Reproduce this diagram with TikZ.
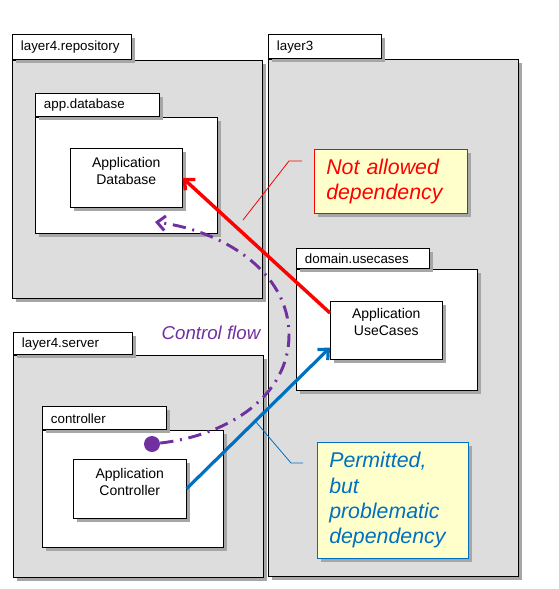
\documentclass[tikz,border=0pt]{standalone}
\usepackage{fontspec}
\setmainfont{Liberation Sans}
\usetikzlibrary{positioning,shadows,arrows.meta}
\definecolor{pkggray}{RGB}{221,221,221}
\definecolor{notefill}{RGB}{255,255,204}
\definecolor{flowpurple}{RGB}{112,48,160}
\definecolor{depblue}{RGB}{0,112,192}
\begin{document}
\begin{tikzpicture}[
    x=0.75pt, y=-0.75pt,
    soft shadow/.style={drop shadow={shadow xshift=2.5pt, shadow yshift=-2.5pt, fill=black!35, opacity=1}},
    package body/.style={draw, fill=pkggray, anchor=north west, inner sep=0pt, soft shadow},
    package inner/.style={package body, fill=white},
    package tab/.style={draw, fill=white, anchor=south west, inner xsep=6.5pt, inner ysep=0pt, align=left, font=\fontsize{10}{12}\selectfont, soft shadow},
    class box/.style={draw, fill=white, anchor=north west, inner sep=0pt, soft shadow},
    class text/.style={inner sep=0pt, align=center, font=\fontsize{10.5}{12.75}\selectfont},
    note box/.style={fill=notefill, anchor=north west, inner xsep=9pt, inner ysep=5pt, align=left, font=\fontsize{16}{19}\selectfont\itshape, soft shadow},
    flow line/.style={flowpurple, line width=2.2pt, dash pattern=on 10pt off 5pt on 1.5pt off 5pt, -{Straight Barb[length=6pt, width=11pt]}},
    bad dep/.style={red, line width=2.6pt, -{Straight Barb[length=6pt, width=11pt]}},
    ok dep/.style={depblue, line width=2.4pt, -{Straight Barb[length=6pt, width=11pt]}}
    ]
    \useasboundingbox (0,0) rectangle (559,589);
    % layer4.repository
    \node[package body, minimum width=187.5pt, minimum height=178.5pt] (repbody) at (12,60) {};
    \node[package tab, text width=76.25pt, minimum height=18.75pt] (reptab) at (repbody.north west) {layer4.repository};
    \node[package inner, minimum width=136.5pt, minimum height=87pt] (dbpkg) at (35,117) {};
    \node[package tab, text width=80pt, minimum height=17.25pt] (dbtab) at (dbpkg.north west) {app.database};
    \node[class box, minimum width=84pt, minimum height=44.25pt] (dbbox) at (70,148) {};
    \node[class text, below=6.5pt of dbbox.north] (dbtext) {Application\\Database};
    % layer3
    \node[package body, minimum width=187.5pt, minimum height=387.75pt] (l3body) at (268,59) {};
    \node[package tab, text width=71.75pt, minimum height=18pt] (l3tab) at (l3body.north west) {layer3};
    \node[package inner, minimum width=135.75pt, minimum height=90.75pt] (ucpkg) at (296,269) {};
    \node[package tab, text width=86.75pt, minimum height=15pt] (uctab) at (ucpkg.north west) {domain.usecases};
    \node[class box, minimum width=84pt, minimum height=43.5pt] (ucbox) at (330,301) {};
    \node[class text, below=5pt of ucbox.north] (uctext) {Application\\UseCases};
    % layer4.server
    \node[package body, minimum width=187.5pt, minimum height=166.5pt] (srvbody) at (13,355) {};
    \node[package tab, text width=76.25pt, minimum height=16.5pt] (srvtab) at (srvbody.north west) {layer4.server};
    \node[package inner, minimum width=135.75pt, minimum height=87.75pt] (ctrlpkg) at (42,430) {};
    \node[package tab, text width=80pt, minimum height=17.25pt] (ctrltab) at (ctrlpkg.north west) {controller};
    \node[class box, minimum width=84.75pt, minimum height=44.25pt] (ctrlbox) at (73,459) {};
    \node[class text, below=6.5pt of ctrlbox.north] (ctrltext) {Application\\Controller};
    % notes
    \node[note box, draw=red, text=red, text width=96.75pt, minimum height=48pt] (nanote) at (314,149) {Not allowed\\dependency};
    \coordinate (nacall) at (243,220);
    \draw[red, line width=0.6pt] ([xshift=-9pt, yshift=-9pt]nanote.north west) -- ++(-13,0) -- (nacall);
    \node[note box, draw=depblue, text=depblue, text width=95.25pt, minimum height=87pt] (pmnote) at (317,442) {Permitted,\\but\\problematic\\dependency};
    \coordinate (pmcall) at (256,422);
    \draw[depblue, line width=0.6pt] ([xshift=-10.5pt, yshift=-15.75pt]pmnote.north west) -- ++(-12,0) -- (pmcall);
    % control flow
    \node[text=flowpurple, font=\fontsize{14}{16}\selectfont\itshape] (flowlabel) at (211,333) {Control flow};
    \node[circle, fill=flowpurple, minimum size=12pt, inner sep=0pt] (cfdot) at (152,444) {};
    \coordinate (flowmid) at (289,335);
    \coordinate (flowend) at (155,222);
    \draw[flow line] (cfdot) .. controls (230,435) and (289,395) .. (flowmid) .. controls (289,270) and (220,230) .. (flowend);
    % dependencies
    \draw[bad dep] ([yshift=-9pt]ucbox.north west) -- (dbbox.east);
    \draw[ok dep] (ctrlbox.east) -- ([yshift=9pt]ucbox.south west);
\end{tikzpicture}
\end{document}
